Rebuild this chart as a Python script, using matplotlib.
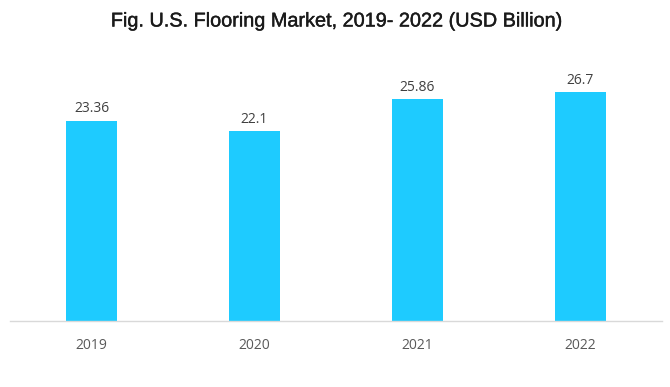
import matplotlib.pyplot as plt
import matplotlib.patheffects as pe

years = ["2019", "2020", "2021", "2022"]
values = [23.36, 22.1, 25.86, 26.7]
labels = ["23.36", "22.1", "25.86", "26.7"]

W, H = 670, 387
fig = plt.figure(figsize=(W / 100, H / 100), dpi=100)
ax = fig.add_axes([10 / W, 66 / H, 652 / W, 257.4 / H])

x = range(len(years))
bars = ax.bar(x, values, width=0.31, color="#1ECBFF")
ax.set_xlim(-0.5, 3.5)
ax.set_ylim(0, 30)

for xi, v, lab in zip(x, values, labels):
    ax.text(xi, v + 0.5, lab, ha="center", va="bottom", fontsize=10,
            family="Open Sans", color="#404040")

ax.set_xticks(list(x))
ax.set_xticklabels(years, fontsize=10, family="Open Sans", color="#595959")
ax.tick_params(axis="x", length=0, pad=12)
ax.set_yticks([])
for s in ["top", "right", "left"]:
    ax.spines[s].set_visible(False)
ax.spines["bottom"].set_color("#d9d9d9")
ax.spines["bottom"].set_linewidth(1)

fig.text(337 / W, 1 - 21 / H, "Fig. U.S. Flooring Market, 2019- 2022 (USD Billion)",
         ha="center", va="center", fontsize=14.3, family="Liberation Sans",
         color="#1a1a1a",
         path_effects=[pe.withStroke(linewidth=0.3, foreground="#1a1a1a")])

fig.savefig("out.png", dpi=100)
